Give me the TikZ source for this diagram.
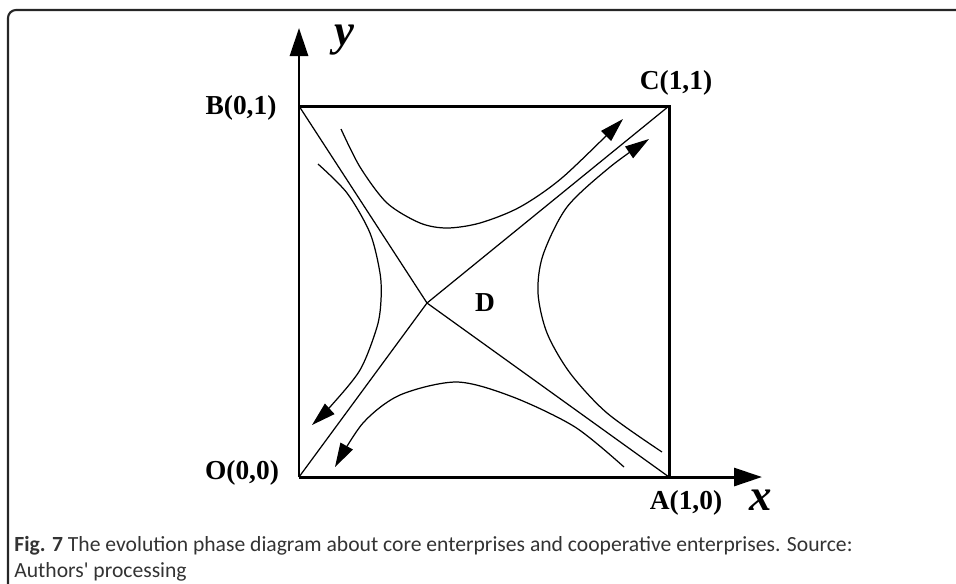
\documentclass[tikz,border=0pt]{standalone}
\usepackage{fontspec}
\setmainfont{Liberation Serif}
\newfontfamily\capfont{Carlito}
\usetikzlibrary{arrows.meta,positioning}

\begin{document}
\begin{tikzpicture}[x=0.02cm, y=-0.02cm,
    axis/.style={line width=1.7pt, -{Triangle[length=0.56cm, width=0.36cm]}},
    edge/.style={line width=1.7pt},
    sep/.style={line width=0.7pt},
    flow/.style={line width=0.7pt, -{Triangle[length=0.48cm, width=0.28cm]}},
    pt/.style={font=\bfseries\fontsize{15.6}{16}\selectfont, inner sep=0pt},
    ax/.style={font=\bfseries\itshape\fontsize{25.5}{26}\selectfont, inner sep=0pt},
    frame/.style={line width=1.2pt, black!85, rounded corners=0.16cm},
    caption/.style={font=\capfont\fontsize{12.3}{14.7}\selectfont, text=black!80, align=left, inner sep=0pt, anchor=north west}
]
\useasboundingbox (0,0) rectangle (956,583);

% Frame
\draw[frame] (8,590) -- (8,10) -- (970,10);

% Corner points
\coordinate (O) at (299,477);
\coordinate (A) at (669,477);
\coordinate (B) at (299,106);
\coordinate (C) at (669,106);
\coordinate (D) at (427,303);
\coordinate (xend) at (762,477);
\coordinate (yend) at (299,28);

% Axes and square
\draw[axis] (O) -- (xend);
\draw[axis] (O) -- (yend);
\draw[edge] (B) -- (C) -- (A);

% Separatrices
\draw[sep] (B) -- (D) -- (A);
\draw[sep] (O) -- (D) -- (C);

% Trajectories
\draw[flow] plot[smooth] coordinates {(341,129) (360,167) (387,203) (420,223) (447,228) (480,223) (520,207) (563,177) (623,119)};
\draw[flow] plot[smooth] coordinates {(662,452) (607,413) (570,373) (547,333) (538,293) (543,255) (567,207) (610,167) (649,139)};
\draw[flow] plot[smooth] coordinates {(318,164) (347,193) (370,233) (380,273) (381,300) (377,327) (360,370) (330,407) (312,425)};
\draw[flow] plot[smooth] coordinates {(624,467) (575,427) (513,397) (457,382) (400,395) (363,423) (335,467)};

% Labels
\node[pt] (labB) at (241,108) {B(0,1)};
\node[pt] (labC) at (676,83) {C(1,1)};
\node[pt] (labO) at (242,473) {O(0,0)};
\node[pt] (labA) at (686,503) {A(1,0)};
\node[pt] (labD) at (485,303) {D};
\node[ax] (laby) at (344,40) {y};
\node[ax] (labx) at (761,500) {x};

% Caption
\node[caption] (cap) at (14,536) {\textbf{Fig. 7} The evolution phase diagram about core enterprises and cooperative enterprises. Source:\\Authors' processing};

\end{tikzpicture}
\end{document}
